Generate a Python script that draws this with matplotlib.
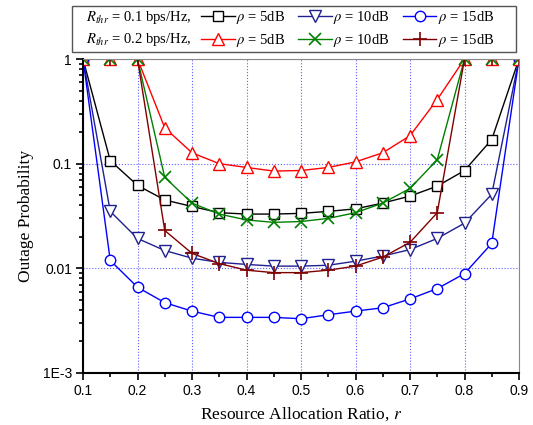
import matplotlib
matplotlib.use("Agg")
import matplotlib.pyplot as plt
from matplotlib.patches import Rectangle
from matplotlib.ticker import FixedLocator, FixedFormatter, LogLocator, NullFormatter, MultipleLocator

# resource allocation ratio r
r = [0.1, 0.15, 0.2, 0.25, 0.3, 0.35, 0.4, 0.45, 0.5, 0.55, 0.6, 0.65, 0.7, 0.75, 0.8, 0.85, 0.9]

# Rthr = 0.1 bps/Hz
p01_5db = [1, 0.107, 0.062, 0.045, 0.039, 0.034, 0.033, 0.033, 0.0335, 0.035, 0.037, 0.042, 0.049, 0.061, 0.086, 0.17, 1]
p01_10db = [1, 0.035, 0.0193, 0.0148, 0.0125, 0.0114, 0.0109, 0.0105, 0.0105, 0.0107, 0.0117, 0.0131, 0.0151, 0.0193, 0.027, 0.051, 1]
p01_15db = [1, 0.0119, 0.0066, 0.0047, 0.0039, 0.0034, 0.0034, 0.0034, 0.0033, 0.0036, 0.0039, 0.0042, 0.0051, 0.0064, 0.0089, 0.0173, 1]

# Rthr = 0.2 bps/Hz
p02_5db = [1, 1, 1, 0.22, 0.127, 0.1, 0.092, 0.085, 0.086, 0.092, 0.104, 0.127, 0.185, 0.41, 1, 1, 1]
p02_10db = [1, 1, 1, 0.074, 0.042, 0.033, 0.029, 0.0275, 0.028, 0.030, 0.034, 0.042, 0.058, 0.109, 1, 1, 1]
p02_15db = [1, 1, 1, 0.023, 0.0139, 0.0111, 0.0096, 0.0091, 0.0091, 0.0096, 0.0105, 0.0128, 0.0177, 0.034, 1, 1, 1]

serif = "Liberation Serif"
sans = "Liberation Sans"

fig = plt.figure(figsize=(5.33, 4.25), dpi=100)
ax = fig.add_axes([83 / 533, 1 - 373 / 425, 436 / 533, 314 / 425])

lw = 1.0
h1, = ax.plot(r, p01_5db, color="black", marker="s", ms=7, mfc="white", mew=1, lw=lw)
h2, = ax.plot(r, p01_10db, color="#202090", marker="v", ms=8, mfc="white", mew=1, lw=lw)
h3, = ax.plot(r, p01_15db, color="#0000ff", marker="o", ms=7.5, mfc="white", mew=1, lw=lw)
h4, = ax.plot(r, p02_5db, color="#ff0000", marker="^", ms=8, mfc="white", mew=1, lw=lw)
h5, = ax.plot(r, p02_10db, color="#008000", marker="x", ms=9, mew=1.2, lw=lw)
h6, = ax.plot(r, p02_15db, color="#800000", marker="+", ms=10, mew=1.2, lw=lw)

ax.set_yscale("log")
ax.set_xlim(0.1, 0.9)
ax.set_ylim(1e-3, 1)

ax.xaxis.set_major_locator(MultipleLocator(0.1))
ax.xaxis.set_minor_locator(MultipleLocator(0.05))
ax.yaxis.set_major_locator(FixedLocator([1e-3, 1e-2, 1e-1, 1]))
ax.yaxis.set_major_formatter(FixedFormatter(["1E-3", "0.01", "0.1", "1"]))
ax.yaxis.set_minor_locator(LogLocator(base=10, subs=range(2, 10)))
ax.yaxis.set_minor_formatter(NullFormatter())

ax.tick_params(which="both", direction="out", top=False, right=False, width=1.2)
ax.tick_params(which="major", length=5, labelsize=10, pad=3)
ax.tick_params(which="minor", length=3)
for lab in ax.get_xticklabels() + ax.get_yticklabels():
    lab.set_fontfamily(sans)

ax.grid(True, which="major", color="#6060ff", linestyle=":", linewidth=0.8)

for side in ("left", "bottom"):
    ax.spines[side].set_linewidth(1.5)
for side in ("top", "right"):
    ax.spines[side].set_color("#888888")

ax.set_xlabel("Resource Allocation Ratio, $\\mathit{r}$", family=serif, fontsize=12.5,
              labelpad=5, math_fontfamily="stix")
ax.set_ylabel("Outage Probability", family=serif, fontsize=12.5, labelpad=6)

# legend box
fig.patches.append(Rectangle((72 / 533, 1 - 52 / 425), 444 / 533, 46 / 425,
                             transform=fig.transFigure, fill=False,
                             edgecolor="#555555", linewidth=1.0))
fig.text(86 / 533, 1 - 18 / 425, "$R_{thr}$ = 0.1 bps/Hz,", family=serif, fontsize=10.5,
         va="center", math_fontfamily="stix")
fig.text(86 / 533, 1 - 40 / 425, "$R_{thr}$ = 0.2 bps/Hz,", family=serif, fontsize=10.5,
         va="center", math_fontfamily="stix")

labels = ["$\\rho$ = 5dB", "$\\rho$ = 5dB", "$\\rho$ = 10dB", "$\\rho$ = 10dB",
          "$\\rho$ = 15dB", "$\\rho$ = 15dB"]
leg = fig.legend([h1, h4, h2, h5, h3, h6], labels, ncol=3, frameon=False,
                 loc="center left", bbox_to_anchor=(201 / 533, 1 - 29 / 425),
                 prop={"family": serif, "size": 10.5}, handlelength=2.3,
                 handletextpad=0.1, columnspacing=0.9, labelspacing=0.45,
                 borderpad=0, borderaxespad=0)
for t in leg.get_texts():
    t.set_math_fontfamily("stix")

fig.savefig("out.png", dpi=100)
